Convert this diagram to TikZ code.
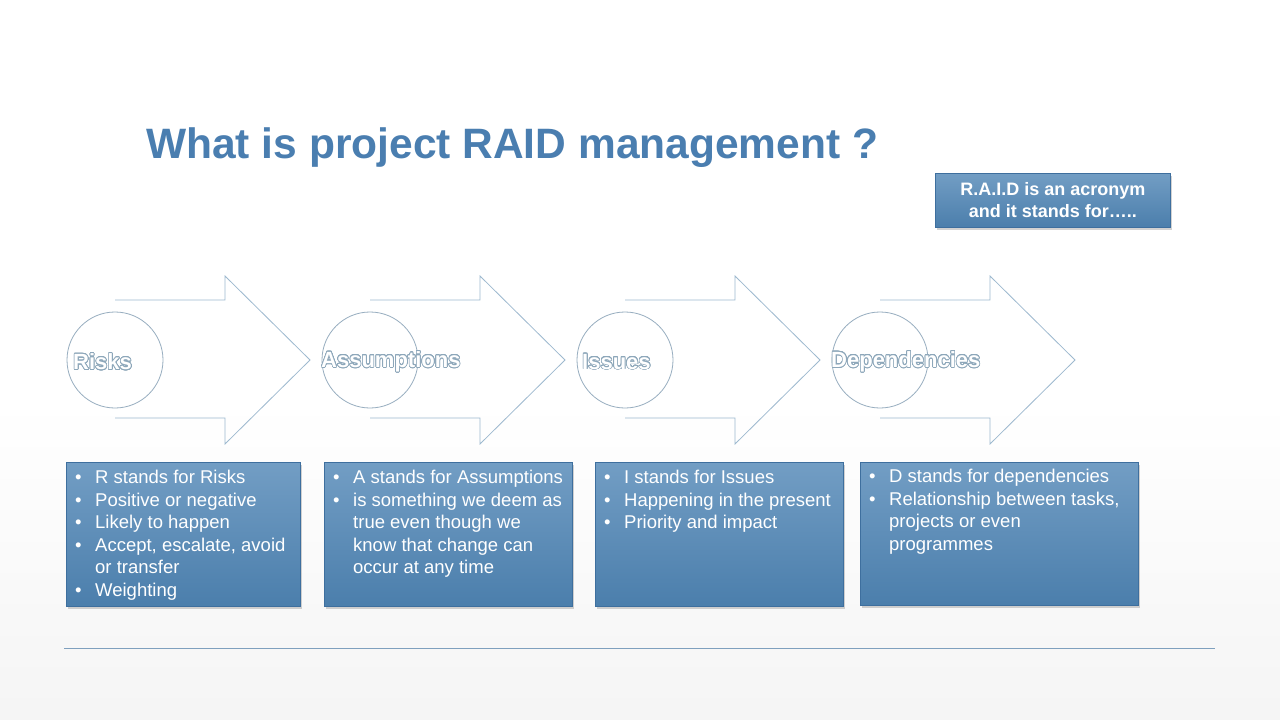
\documentclass[tikz,border=0pt]{standalone}
\usetikzlibrary{shadows}
\usepackage{fontspec}
\setmainfont{Liberation Sans}
\usepackage{contour}
\contourlength{0.7pt}
\contournumber{24}
\definecolor{titleblue}{HTML}{4A7EB0}
\definecolor{boxblue}{HTML}{4F85B5}
\definecolor{boxdark}{HTML}{3E6F9E}
\definecolor{shapeline}{HTML}{9DB9CF}
\definecolor{rule}{HTML}{7FA0BE}
\tikzset{
  bbox/.style={draw=boxdark, line width=0.6pt, top color=boxblue!80!white, bottom color=boxblue!95!black, anchor=north west, inner sep=0pt, drop shadow={opacity=0.35, shadow xshift=1.5pt, shadow yshift=-2.5pt}},
  btext/.style={text=white, font=\fontsize{18.5}{22.5}\selectfont, anchor=north west, align=left, inner sep=0pt},
  lbl/.style={font=\fontsize{22}{24}\selectfont\bfseries, anchor=west, inner sep=0pt},
}
\newcommand{\bul}{\makebox[20pt][l]{\textbullet}}
\newcommand{\hang}{\hspace*{20pt}}
\begin{document}
\begin{tikzpicture}[x=1pt,y=-1pt]
\useasboundingbox (0,0) rectangle (1280,720);
\fill[white] (0,0) rectangle (1280,720);
\shade[top color=white, bottom color=black!4] (0,400) rectangle (1280,720);
\node[text=titleblue, font=\fontsize{42.5}{44}\selectfont\bfseries, anchor=base west, inner sep=0pt] (title) at (146,158) {What is project RAID management ?};
\node[bbox, minimum width=235, minimum height=54, text=white, font=\fontsize{18}{22}\selectfont\bfseries, align=center] (acr) at (935,173) {R.A.I.D is an acronym\\and it stands for…..};
\foreach \x/\n/\t/\o in {115/r/Risks/42,370/a/Assumptions/49,625/i/Issues/43,880/d/Dependencies/49}{
  \draw[shapeline, line width=0.8pt] (\x,300) -- (\x+110,300) -- (\x+110,276) -- (\x+195,360) -- (\x+110,444) -- (\x+110,418) -- (\x,418);
  \draw[shapeline!80!gray, line width=0.8pt] (\x,360) circle (48);
  \node[lbl] (\n lbl) at (\x-\o,362) {\contour{shapeline!90!black}{\textcolor{white}{\t}}};
}
\node[bbox, minimum width=234, minimum height=144] (rb) at (66,462) {};
\node[bbox, minimum width=248, minimum height=144] (ab) at (324,462) {};
\node[bbox, minimum width=248, minimum height=144] (ib) at (595,462) {};
\node[bbox, minimum width=278, minimum height=143] (db) at (860,462) {};
\node[btext] (rt) at (75,470) {\bul R stands for Risks\\\bul Positive or negative\\\bul Likely to happen\\\bul Accept, escalate, avoid\\\hang or transfer\\\bul Weighting};
\node[btext] (at) at (333,470) {\bul A stands for Assumptions\\\bul is something we deem as\\\hang true even though we\\\hang know that change can\\\hang occur at any time};
\node[btext] (it) at (604,470) {\bul I stands for Issues\\\bul Happening in the present\\\bul Priority and impact};
\node[btext] (dt) at (869,469) {\bul D stands for dependencies\\\bul Relationship between tasks,\\\hang projects or even\\\hang programmes};
\coordinate (l1) at (64,648); \coordinate (l2) at (1215,648);
\draw[rule, line width=0.8pt] (l1) -- (l2);
\end{tikzpicture}
\end{document}
